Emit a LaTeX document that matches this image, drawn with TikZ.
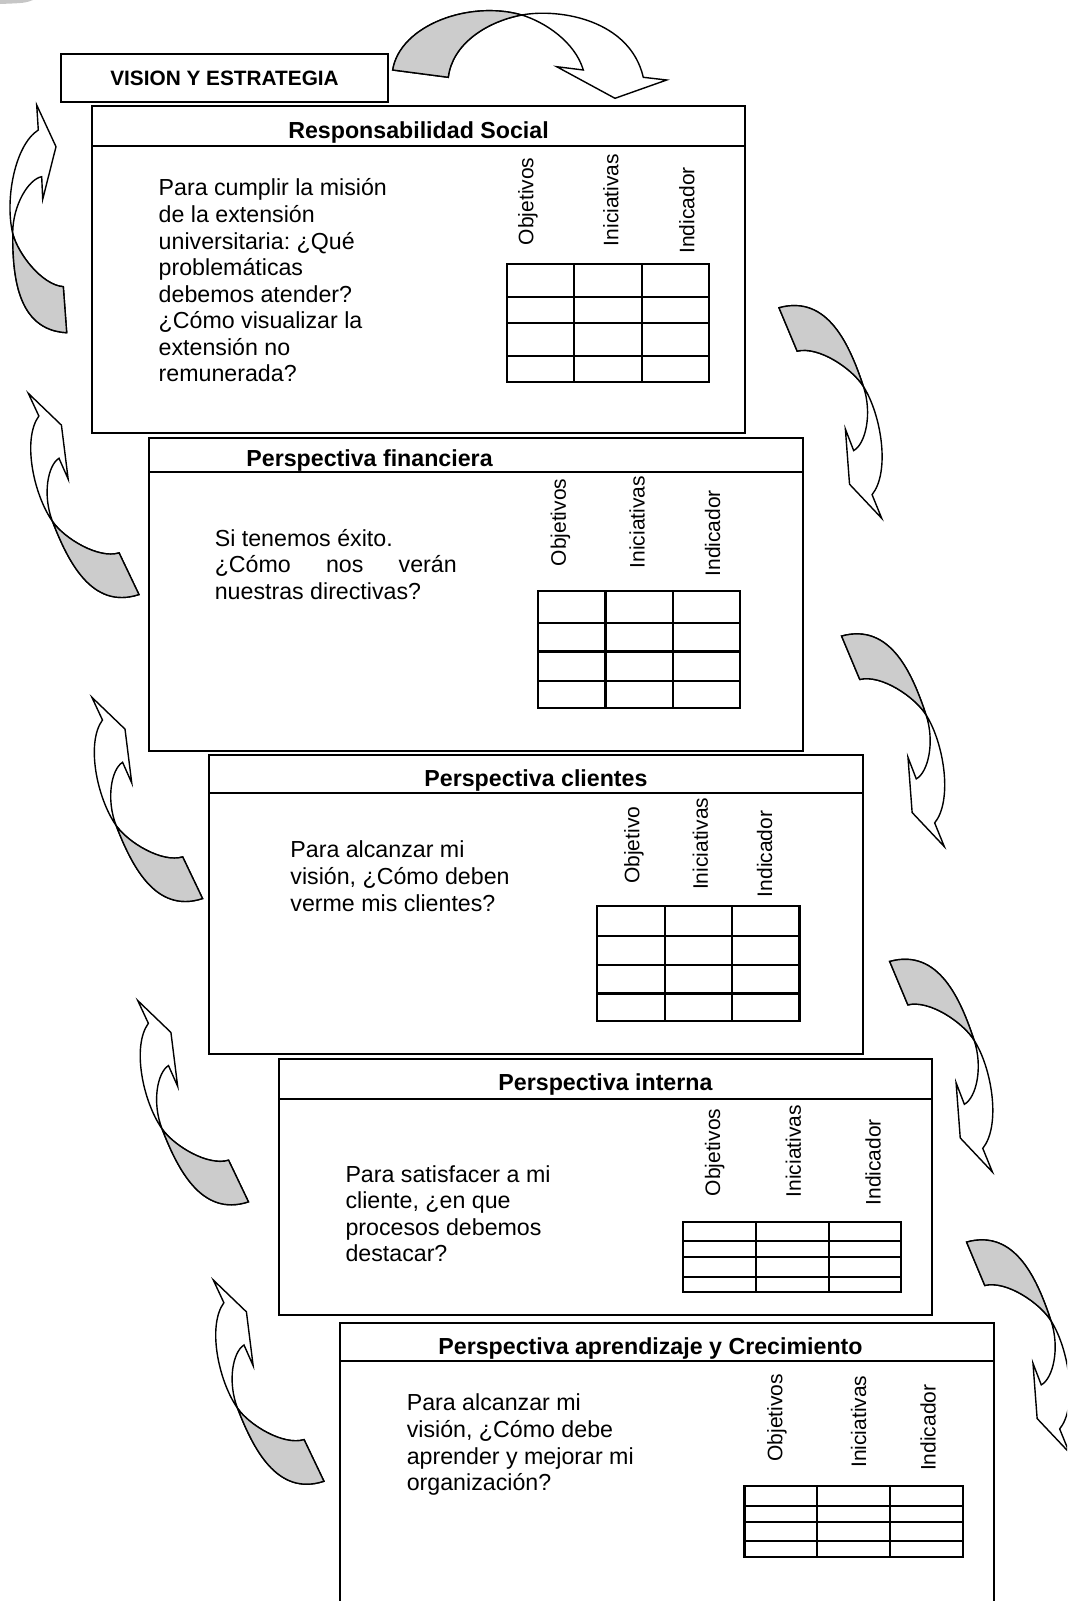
\documentclass[tikz,border=0pt]{standalone}
\usepackage{fontspec}
\setmainfont{Liberation Sans}
\frenchspacing
\newcommand\persbox[5]{%
  \draw[boxline] (#1,#2) rectangle (#3,#4);
  \draw[boxline] (#1,#5) -- (#3,#5);}
\newcommand\gridtable[9]{%
  \draw[tabline] (#1,#5) rectangle (#4,#9);
  \draw[tabline] (#2,#5) -- (#2,#9) (#3,#5) -- (#3,#9)
     (#1,#6) -- (#4,#6) (#1,#7) -- (#4,#7) (#1,#8) -- (#4,#8);}
\tikzset{
  boxline/.style={draw, line width=1pt},
  tabline/.style={line width=1.1pt},
  bodytxt/.style={anchor=base west, inner sep=0pt, font=\fontsize{11.6}{14}\selectfont},
  titletxt/.style={anchor=base, inner sep=0pt, font=\bfseries\fontsize{11.6}{14}\selectfont},
  collabel/.style={rotate=90, anchor=west, inner sep=0pt, font=\fontsize{10.5}{12}\selectfont},
  arrline/.style={line width=0.7pt, line join=miter},
  backside/.style={fill=gray!40},
  curvarrow/.pic={
    \filldraw[arrline, fill=white] (30,227.7) .. controls (-20,225) and (-24,170) .. (-24,128.3)
       .. controls (-24,100) and (-8,74) .. (5,71.7)
       -- (6,94.3) -- (19.3,41.7) -- (0,0) -- (1.6,25)
       .. controls (-22,40) and (-32,95) .. (-24,128.3)
       .. controls (-19.2,148.3) and (5,180) .. (26.6,181.7) -- cycle;
    \filldraw[arrline, backside] (-24,128.3) .. controls (-19.2,148.3) and (5,180) .. (26.6,181.7)
       -- (30,227.7) .. controls (-20,225) and (-24,170) .. (-24,128.3) -- cycle;
  }
}
\begin{document}
\begin{tikzpicture}[x=0.5pt,y=-0.5pt]
\useasboundingbox (0,0) rectangle (1067,1601);
\clip (0,0) rectangle (1067,1601);

% small gray fragment at the top-left corner
\fill[gray!45] (0,0) -- (33,0) .. controls (25,3) .. (0,4) -- cycle;

% VISION box
\draw[boxline] (61,54) rectangle (388,101.7);
\node[anchor=base, inner sep=0pt, font=\bfseries\fontsize{10.4}{12}\selectfont] (vision) at (224.5,85) {VISION Y ESTRATEGIA};

% Box 1
\persbox{91.7}{106}{745.3}{433.3}{145.5}
\node[titletxt] (t1) at (418.5,138) {Responsabilidad Social};
\node[bodytxt] (b1a) at (158.3,195.9) {Para cumplir la misión};
\node[bodytxt] (b1b) at (158.3,222.4) {de la extensión};
\node[bodytxt] (b1c) at (158.3,249) {universitaria: ¿Qué};
\node[bodytxt] (b1d) at (158.3,275.5) {problemáticas};
\node[bodytxt] (b1e) at (158.3,302) {debemos atender?};
\node[bodytxt] (b1f) at (158.3,328.6) {¿Cómo visualizar la};
\node[bodytxt] (b1g) at (158.3,355.2) {extensión no};
\node[bodytxt] (b1h) at (158.3,381.7) {remunerada?};
\node[collabel] (o1) at (528,245.5) {Objetivos};
\node[collabel] (i1) at (610.8,246.5) {Iniciativas};
\node[collabel] (d1) at (686.8,254) {Indicador};
\gridtable{506.7}{574.3}{642.3}{709.3}{264.3}{296.7}{323.3}{356}{381.7}

% Box 2
\persbox{149}{437.5}{802.7}{750.5}{472}
\node[titletxt, anchor=base west] (t2) at (246,466.7) {Perspectiva financiera};
\node[bodytxt] (b2a) at (214.4,546) {Si tenemos éxito.};
\node[bodytxt] (b2b) at (214.4,572.6) {\makebox[121pt][l]{¿Cómo\hfill nos\hfill verán}};
\node[bodytxt] (b2c) at (214.4,599.2) {nuestras directivas?};
\node[collabel] (o2) at (560.5,566.7) {Objetivos};
\node[collabel] (i2) at (637.1,568.7) {Iniciativas};
\node[collabel] (d2) at (712.7,576.9) {Indicador};
\gridtable{538}{605.4}{672.8}{740.2}{591.2}{622.8}{651.4}{681}{707.6}

% Box 3
\persbox{209.3}{755}{862.7}{1053.5}{792.5}
\node[titletxt] (t3) at (536,786.3) {Perspectiva clientes};
\node[bodytxt] (b3a) at (290,857.5) {Para alcanzar mi};
\node[bodytxt] (b3b) at (290,884) {visión, ¿Cómo deben};
\node[bodytxt] (b3c) at (290,911.6) {verme mis clientes?};
\node[collabel] (o3) at (634,884.2) {Objetivo};
\node[collabel] (i3) at (700.4,890.3) {Iniciativas};
\node[collabel] (d3) at (764.7,897.5) {Indicador};
\gridtable{597.3}{664.7}{732}{799.4}{905.6}{936.3}{964.8}{993.4}{1021}

% Box 4
\persbox{278.5}{1058.8}{932.2}{1315}{1098.6}
\node[titletxt] (t4) at (605.5,1090.6) {Perspectiva interna};
\node[bodytxt] (b4a) at (345.1,1182.2) {Para satisfacer a mi};
\node[bodytxt] (b4b) at (345.1,1208.7) {cliente, ¿en que};
\node[bodytxt] (b4c) at (345.1,1235.3) {procesos debemos};
\node[bodytxt] (b4d) at (345.1,1261.8) {destacar?};
\node[collabel] (o4) at (714.7,1196.6) {Objetivos};
\node[collabel] (i4) at (793.3,1197.6) {Iniciativas};
\node[collabel] (d4) at (873,1205.8) {Indicador};
\gridtable{683.3}{756}{828.7}{900.7}{1221.7}{1241}{1257.3}{1277.3}{1291.6}

% Box 5
\persbox{340}{1323.3}{994}{1640}{1361}
\node[titletxt, anchor=base west] (t5) at (438,1354) {Perspectiva aprendizaje y Crecimiento};
\node[bodytxt] (b5a) at (406.4,1410.9) {Para alcanzar mi};
\node[bodytxt] (b5b) at (406.4,1437.4) {visión, ¿Cómo debe};
\node[bodytxt] (b5c) at (406.4,1464) {aprender y mejorar mi};
\node[bodytxt] (b5d) at (406.4,1490.5) {organización?};
\node[collabel] (o5) at (777,1462) {Objetivos};
\node[collabel] (i5) at (858.7,1468.2) {Iniciativas};
\node[collabel] (d5) at (928,1471.3) {Indicador};
\gridtable{744.5}{817}{890}{963}{1485.6}{1505.7}{1521.7}{1541}{1557.3}

% top curved arrow
\filldraw[arrline, fill=white] (392.7,70) .. controls (400,25) and (470,0) .. (521.7,15)
   .. controls (545,22) and (575,42) .. (583.3,70)
   -- (556.7,66.7) -- (615,98.3) -- (666.7,80) -- (643.3,77.3)
   .. controls (630,20) and (560,8) .. (521.7,15)
   .. controls (485,22) and (452,45) .. (448.3,77.3) -- cycle;
\filldraw[arrline, backside] (392.7,70) .. controls (400,25) and (470,0) .. (521.7,15)
   .. controls (485,22) and (452,45) .. (448.3,77.3) -- cycle;

% left curved arrows
\pic at (36.7,105) {curvarrow};
\pic[rotate=21.3] at (28.3,393.3) {curvarrow};
\pic[rotate=21.3] at (91.9,697.3) {curvarrow};
\pic[rotate=21.3] at (137.8,1000.6) {curvarrow};
\pic[rotate=21.3] at (213.3,1280) {curvarrow};

% right curved arrows
\pic[rotate=198.5, scale=1.02] at (881.7,518.3) {curvarrow};
\pic[rotate=198.5, scale=1.02] at (944.3,846.6) {curvarrow};
\pic[rotate=198.5, scale=1.02] at (992.4,1172) {curvarrow};
\pic[rotate=198.5, scale=1.02] at (1069.3,1452.6) {curvarrow};
\end{tikzpicture}
\end{document}
